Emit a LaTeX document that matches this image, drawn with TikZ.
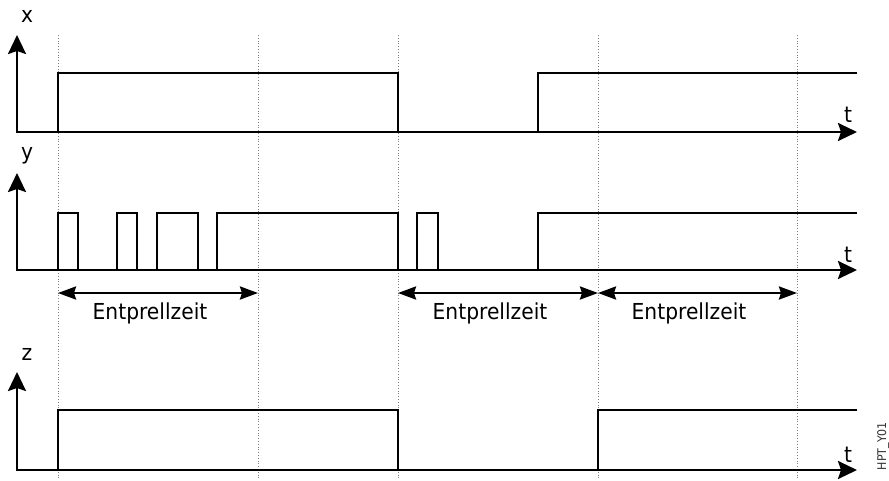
\documentclass[tikz,border=0pt]{standalone}
\usepackage{fontspec}
\setmainfont{DejaVu Sans}[FakeStretch=0.92]
\usetikzlibrary{arrows.meta}

\begin{document}
\begin{tikzpicture}[x=1pt, y=-1pt, >={Stealth[length=19pt, width=18pt, inset=3pt]},
    signal/.style={line width=2.4pt, line join=miter},
    axis/.style={line width=2.4pt, <->},
    span/.style={line width=2.4pt, {Stealth[length=18pt, width=13pt, inset=2pt]}-{Stealth[length=18pt, width=13pt, inset=2pt]}},
    guide/.style={gray, dotted, line width=0.8pt},
    lbl/.style={font=\fontsize{22}{26}\selectfont, anchor=base}]
    \useasboundingbox (0,0) rectangle (889,480);

    % Guide lines
    \foreach \t in {58,258,398,598,797}
        \draw[guide] (\t,35) -- (\t,480);

    % Signal x
    \draw[axis] (17,35) |- (857,132);
    \node[lbl] (labx) at (27,22) {x};
    \node[lbl] (tx) at (848,122) {t};
    \draw[signal] (17,132) -- (58,132) -- (58,73) -- (398,73) -- (398,132)
        -- (538,132) -- (538,73) -- (857,73);

    % Signal y
    \draw[axis] (17,173) |- (857,270);
    \node[lbl] (laby) at (27,159) {y};
    \node[lbl] (ty) at (848,262) {t};
    \draw[signal] (17,270) -- (58,270) -- (58,213) -- (78,213) -- (78,270)
        -- (117,270) -- (117,213) -- (137,213) -- (137,270)
        -- (157,270) -- (157,213) -- (198,213) -- (198,270)
        -- (217,270) -- (217,213) -- (398,213) -- (398,270)
        -- (417,270) -- (417,213) -- (438,213) -- (438,270)
        -- (538,270) -- (538,213) -- (857,213);

    % Debounce time
    \draw[span] (58,293) -- (258,293);
    \draw[span] (398,293) -- (598,293);
    \draw[span] (598,293) -- (797,293);
    \node[lbl] (ent1) at (150,319) {Entprellzeit};
    \node[lbl] (ent2) at (490,319) {Entprellzeit};
    \node[lbl] (ent3) at (689,319) {Entprellzeit};

    % Signal z
    \draw[axis] (17,372) |- (857,470);
    \node[lbl] (labz) at (27,360) {z};
    \node[lbl] (tz) at (848,462) {t};
    \draw[signal] (17,470) -- (58,470) -- (58,410) -- (398,410) -- (398,470)
        -- (598,470) -- (598,410) -- (857,410);

    \node[rotate=90, font=\fontsize{12}{14}\selectfont, black!80] (code) at (883,446) {HPT\_Y01};
\end{tikzpicture}
\end{document}
